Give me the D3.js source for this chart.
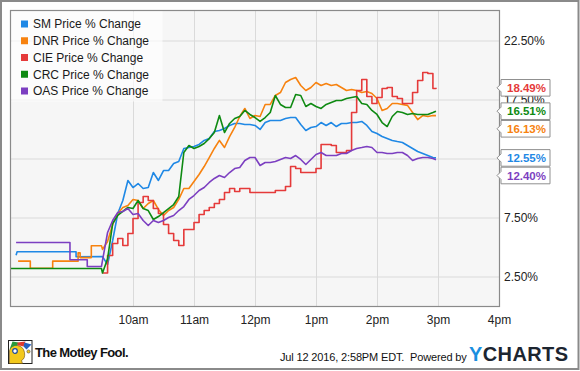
<!DOCTYPE html>
<html><head><meta charset="utf-8">
<script src="https://cdn.jsdelivr.net/npm/d3@7"></script>
<style>
body{margin:0;background:#fff}
svg{display:block}
text{font-family:"Liberation Sans",Arial,Helvetica,sans-serif}
</style>
</head><body>
<svg id="chart" width="580" height="371"></svg>
<script>
// ---------- DATA ----------
const seriesNames = ["SM Price % Change","DNR Price % Change","CIE Price % Change","CRC Price % Change","OAS Price % Change"];
const seriesKeys = ["SM","DNR","CIE","CRC","OAS"];
const seriesColors = ["#1f88e5","#f7820f","#e53a3a","#0e8a12","#7c3fc1"];

// intraday sample times, minutes after 9:30 open (last = 2:58pm)
const gridMinutes = [0,5,10,15,20,25,30,35,40,45,50,55,60,65,70,75,80,85,90,95,100,105,110,115,120,125,130,135,140,145,150,155,160,165,170,175,180,185,190,195,200,205,210,215,220,225,230,235,240,245,250,255,260,265,270,275,280,285,290,295,300,305,310,315,320,325,328];

const smValues = [4.19,3.52,5.55,7.84,8.94,10.64,10.04,10.38,9.96,10.04,
  11.31,10.64,11.48,11.48,12.08,12.25,13.35,13.43,13.52,13.69,
  14.03,14.19,14.79,14.87,15.04,15.30,15.47,15.47,15.38,15.38,
  15.30,14.96,15.55,15.72,15.72,15.72,15.89,15.97,15.97,15.38,
  14.87,15.13,15.21,15.55,15.30,15.55,15.21,15.47,15.47,15.55,
  15.55,15.64,15.30,14.79,14.62,14.36,14.19,14.03,13.94,13.86,
  13.60,13.35,13.09,12.92,12.75,12.58,12.55];
const dnrValues = [4.8,5.47,6.91,7.84,8.35,8.52,9.03,8.94,8.26,8.69,
  8.94,8.18,7.67,8.09,8.35,9.03,9.96,9.96,10.55,11.14,
  11.82,12.58,13.35,14.03,13.43,14.36,15.13,16.06,16.74,15.89,
  16.14,16.06,17.08,17.08,17.84,18.09,18.94,19.19,19.36,18.69,
  18.26,18.52,18.94,18.69,18.86,18.69,18.77,18.52,18.26,18.35,
  18.26,18.09,18.18,18.01,17.58,16.57,16.74,17.16,17.16,17.08,
  17.0,16.40,15.80,16.14,16.06,16.14,16.13];
const cieValues = [2.8,4.28,5.30,5.72,5.13,6.14,7.42,8.77,9.28,8.94,
  8.26,7.84,6.91,6.14,5.55,5.13,6.48,6.48,7.08,7.75,
  8.09,8.35,8.69,9.03,9.62,9.96,9.70,9.96,9.96,9.62,
  9.62,9.62,9.62,9.62,9.79,9.79,10.13,11.82,11.65,11.31,
  11.31,11.31,11.65,13.69,13.69,13.60,13.01,13.01,13.18,16.40,
  18.26,19.2,17.75,17.16,17.67,18.43,18.52,17.75,17.58,17.16,
  17.16,18.09,19.11,19.79,19.70,18.43,18.49];
const crcValues = [2.8,4.0,6.99,7.67,8.01,8.35,8.26,8.94,8.26,8.09,
  7.33,7.58,7.92,8.26,8.60,9.28,13.01,13.60,13.35,13.52,
  13.77,14.19,14.70,16.14,14.70,15.47,15.89,16.06,16.57,16.23,
  15.97,15.64,15.97,16.40,17.84,17.08,16.82,16.82,17.92,17.84,
  16.91,17.16,16.91,16.74,17.08,17.25,17.42,17.42,17.58,17.67,
  17.75,17.16,17.08,16.57,16.23,15.55,15.21,16.06,16.48,16.40,
  16.23,16.31,16.23,16.23,16.23,16.40,16.51];
const oasValues = [3.86,6.23,7.25,7.92,8.01,8.26,7.75,7.84,7.25,6.82,
  7.25,7.08,7.25,7.50,7.67,8.09,8.43,9.03,9.36,9.79,
  10.04,10.47,10.81,11.06,10.89,11.31,11.65,11.74,12.33,12.58,
  12.58,11.91,12.16,12.16,12.25,12.42,12.58,12.50,12.75,12.42,
  11.99,12.42,12.84,13.01,12.75,12.75,12.75,12.92,12.92,13.18,
  13.35,13.43,13.52,13.43,13.01,13.01,12.92,12.92,13.01,13.01,
  12.75,12.33,12.50,12.58,12.58,12.50,12.40];

// pre-market points (minutes relative to 9:30 open)
const smPreMinutes  = [-85,-84,-26,-26];
const smPreValues   = [4.3,4.6,4.6,4.17];
const dnrPreMinutes = [-83,-71,-71,-49,-49,-24,-24,-22,-22,-11,-11,-1];
const dnrPreValues  = [3.8,3.8,3.2,3.2,3.8,3.8,4.5,4.5,4.1,4.1,5.1,5.1];
const ciePreMinutes = [];
const ciePreValues  = [];
const crcPreMinutes = [-90,-1];
const crcPreValues  = [3.18,3.18];
const oasPreMinutes = [-85,-32,-32,-15,-15,-1];
const oasPreValues  = [5.38,5.38,3.92,3.92,3.35,3.35];

const yTickValues = [2.5,7.5,12.5,17.5,22.5];
const xTickHours  = [10,11,12,13,14,15,16];
const xTickLabels = ["10am","11am","12pm","1pm","2pm","3pm","4pm"];
const footerDate = "Jul 12 2016, 2:58PM EDT.  Powered by";

// ---------- BUILD ----------
const pre = {SM:[smPreMinutes,smPreValues],DNR:[dnrPreMinutes,dnrPreValues],CIE:[ciePreMinutes,ciePreValues],CRC:[crcPreMinutes,crcPreValues],OAS:[oasPreMinutes,oasPreValues]};
const intra = {SM:smValues,DNR:dnrValues,CIE:cieValues,CRC:crcValues,OAS:oasValues};
const toDate = m => new Date(2016,6,12,9,30+m);
const series = seriesKeys.map((k,i)=>{
  const pts = pre[k][0].map((m,j)=>({t:toDate(m),v:pre[k][1][j]}))
    .concat(gridMinutes.map((m,j)=>({t:toDate(m),v:intra[k][j]})));
  return {key:k,name:seriesNames[i],color:seriesColors[i],points:pts,last:intra[k][intra[k].length-1]};
});

const svg = d3.select("#chart");
const L=11,R=499,T=11,B=306;
const x = d3.scaleTime().domain([new Date(2016,6,12,8,0),new Date(2016,6,12,16,0)]).range([L,R]);
const y = d3.scaleLinear().domain([0,25]).range([B,T]);

svg.append("rect").attr("x",0).attr("y",0).attr("width",580).attr("height",371).attr("fill","#fff");
svg.append("rect").attr("x",L).attr("y",T).attr("width",R-L).attr("height",B-T).attr("fill","#f6f6f6");

const tickDates = xTickHours.map(h=>new Date(2016,6,12,h,0));
// vertical grid
svg.append("g").attr("transform",`translate(0,${B})`)
  .call(d3.axisBottom(x).tickValues(tickDates.slice(0,-1)).tickSize(-(B-T)).tickFormat(""))
  .call(g=>{g.select(".domain").remove();g.selectAll("line").attr("stroke","#dadada").attr("stroke-width",1);});
// horizontal grid
svg.append("g").attr("transform",`translate(${L},0)`)
  .call(d3.axisLeft(y).tickValues(yTickValues).tickSize(-(R-L)).tickFormat(""))
  .call(g=>{g.select(".domain").remove();g.selectAll("line").attr("stroke","#dadada").attr("stroke-width",1);});

// lines
svg.append("clipPath").attr("id","clip").append("rect").attr("x",L).attr("y",T).attr("width",R-L).attr("height",B-T);
const lineG = svg.append("g").attr("clip-path","url(#clip)");
series.forEach(s=>{
  const gen = d3.line().x(d=>x(d.t)).y(d=>y(d.v)).curve(s.key==="CIE"?d3.curveStepAfter:d3.curveLinear);
  lineG.append("path").datum(s.points).attr("d",gen).attr("fill","none")
    .attr("stroke",s.color).attr("stroke-width",1.6).attr("stroke-linejoin","round");
});

// plot border
svg.append("rect").attr("x",L-0.5).attr("y",T-0.5).attr("width",R-L+1).attr("height",B-T+1)
  .attr("fill","none").attr("stroke","#8a8a8a").attr("stroke-width",1.2);

// x labels
svg.append("g").attr("transform",`translate(0,${B})`)
  .call(d3.axisBottom(x).tickValues(tickDates).tickSize(0).tickPadding(9).tickFormat((d,i)=>xTickLabels[i]))
  .call(g=>{g.select(".domain").remove();g.selectAll("text").attr("font-size",12).attr("fill","#222").style("font-family","Liberation Sans, Arial");});

// end-value label positions with collision avoidance
const lab = series.map(s=>({s,y:y(s.last)})).sort((a,b)=>a.y-b.y);
const H=17.6;
for(let i=1;i<lab.length;i++){ if(lab[i].y-lab[i-1].y<H) lab[i].y=lab[i-1].y+H; }

// y labels (a label fully covered by a value box is not shown, as in the original)
const covered = v => lab.some(l=>Math.abs(l.y-y(v))<4);
svg.append("g").attr("transform",`translate(${R},0)`)
  .call(d3.axisRight(y).tickValues(yTickValues).tickSize(0).tickPadding(5).tickFormat(d=>covered(d)?"":d.toFixed(2)+"%"))
  .call(g=>{g.select(".domain").remove();g.selectAll("text").attr("font-size",12).attr("fill","#222").style("font-family","Liberation Sans, Arial");});

// legend
const lg = svg.append("g");
lg.append("rect").attr("x",L+0.5).attr("y",T+0.5).attr("width",151).attr("height",90).attr("fill","#fff").attr("fill-opacity",0.65);
series.forEach((s,i)=>{
  const cy = 24 + i*16.75;
  lg.append("rect").attr("x",21).attr("y",cy-3.5).attr("width",7).attr("height",7).attr("fill",s.color);
  lg.append("text").attr("x",33).attr("y",cy).attr("dy","0.36em").attr("font-size",12).attr("fill","#1a1a1a").text(s.name);
});

// end-value boxes
lab.forEach(l=>{
  const cy=l.y, x0=501, x1=550, top=cy-H/2+0.5, bot=cy+H/2-0.5;
  svg.append("path").attr("d",`M${x0},${top}H${x1}V${bot}H${x0}V${cy+4}L${x0-4},${cy}L${x0},${cy-4}Z`)
    .attr("fill","#fff").attr("stroke","#8f8f8f").attr("stroke-width",1);
  svg.append("text").attr("x",526.5).attr("y",cy).attr("dy","0.36em").attr("text-anchor","middle")
    .attr("font-size",11.5).attr("font-weight","bold").attr("fill",l.s.color).text(l.s.last.toFixed(2)+"%");
});

// footer: Motley Fool logo
const lf = svg.append("g").attr("transform","translate(8.5,340.5)");
lf.append("rect").attr("width",23.5).attr("height",23).attr("fill","#fff").attr("stroke","#222").attr("stroke-width",1);
lf.append("path").attr("d","M1,23 L1,10 Q3,4 9,5 Q15,6 16,12 Q17,18 13,20 L14,23 Z").attr("fill","#f2c81c").attr("stroke","#6b4a10").attr("stroke-width",0.6);
lf.append("path").attr("d","M1,9 L4,1 L10,2 L9,5 Q4,5 1,9Z").attr("fill","#2a9a3a");
lf.append("path").attr("d","M9,2 L17,1 L15,6 Q12,5 9,5Z").attr("fill","#e03a2e");
lf.append("path").attr("d","M16,2 L23,4 L18,9 L15,6Z").attr("fill","#2460c0");
lf.append("circle").attr("cx",6.5).attr("cy",10.5).attr("r",2.3).attr("fill","#fff").attr("stroke","#1a4aa0").attr("stroke-width",1.2);
lf.append("circle").attr("cx",20).attr("cy",11).attr("r",1.6).attr("fill","#f2c81c").attr("stroke","#333").attr("stroke-width",0.5);
svg.append("text").attr("x",35).attr("y",356.5).attr("font-size",13).attr("font-weight","bold").attr("fill","#111")
  .attr("letter-spacing","-0.6").text("The Motley Fool.");

// footer right
svg.append("text").attr("x",280).attr("y",361).attr("font-size",11).attr("fill","#111")
  .attr("letter-spacing","-0.15").style("white-space","pre").text(footerDate);
const yc = svg.append("text").attr("x",469).attr("y",361).attr("font-size",20).attr("font-weight","bold")
  .attr("letter-spacing","0.4");
yc.append("tspan").attr("fill","#1a8fe0").text("Y");
yc.append("tspan").attr("fill","#1c2530").text("CHARTS");

// outer frame
svg.append("rect").attr("x",1).attr("y",1).attr("width",577.5).attr("height",368).attr("fill","none").attr("stroke","#8a8a8a").attr("stroke-width",2);
</script>
</body></html>
